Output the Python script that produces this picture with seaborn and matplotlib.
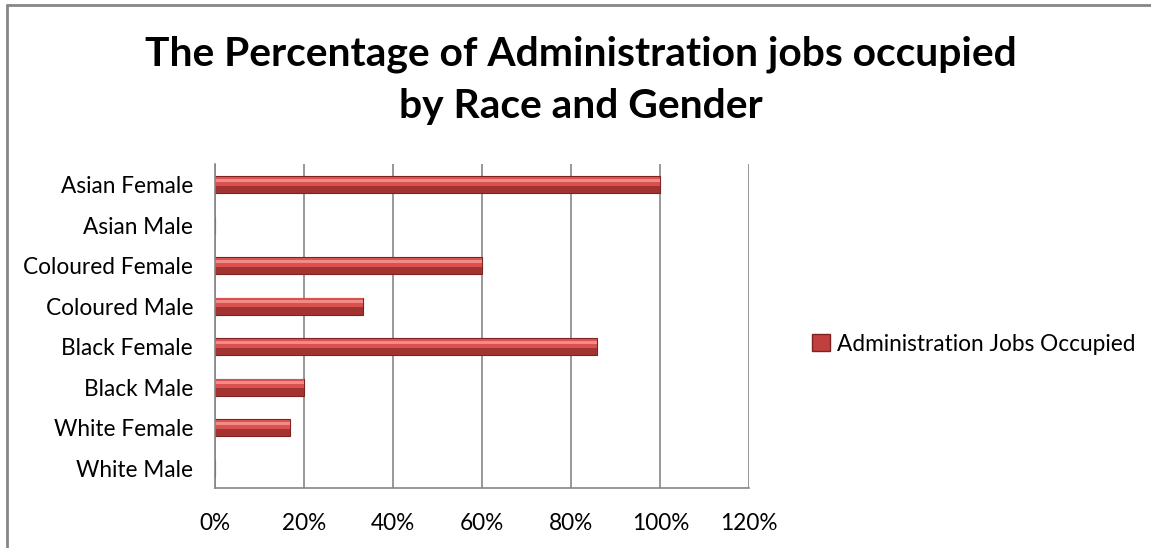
import matplotlib
matplotlib.use('Agg')
import matplotlib.pyplot as plt
import seaborn as sns
import pandas as pd
from matplotlib.lines import Line2D
from matplotlib.patches import Patch
from matplotlib.ticker import PercentFormatter

groups = ['Asian Female', 'Asian Male', 'Coloured Female', 'Coloured Male',
          'Black Female', 'Black Male', 'White Female', 'White Male']
jobs_pct = [100, 0, 60, 33.3, 85.7, 20, 16.7, 0]
series_name = 'Administration Jobs Occupied'

df = pd.DataFrame({'group': groups, 'pct': jobs_pct})

sns.set_style('white')
plt.rcParams['font.family'] = ['Lato', 'DejaVu Sans']
plt.rcParams['text.color'] = 'black'
plt.rcParams['xtick.color'] = 'black'
plt.rcParams['ytick.color'] = 'black'

fig = plt.figure(figsize=(11.51, 5.48), dpi=100)
ax = fig.add_axes([0.187, 0.109, 0.464, 0.591])

n = len(groups)
# base bar (dark lower part), upper lighter half and a thin highlight -> glossy look
sns.barplot(data=df, x='pct', y='group', orient='h', color='#a33331',
            width=0.42, saturation=1, edgecolor='#7d2220', linewidth=0.8, ax=ax)
sns.barplot(data=df, x='pct', y='group', orient='h', color='#d9524f',
            width=0.22, saturation=1, linewidth=0, ax=ax)
sns.barplot(data=df, x='pct', y='group', orient='h', color='#f28b88',
            width=0.07, saturation=1, linewidth=0, ax=ax)
for p in ax.patches[n:2 * n]:
    p.set_y(p.get_y() - 0.08)
for p in ax.patches[2 * n:]:
    p.set_y(p.get_y() - 0.11)

ax.set_xlim(0, 120)
ax.set_xticks(range(0, 121, 20))
ax.xaxis.set_major_formatter(PercentFormatter(decimals=0))
ax.set_xlabel('')
ax.set_ylabel('')
ax.grid(axis='x', color='#868686', linewidth=1.2)
ax.set_axisbelow(True)
for s in ['top', 'right']:
    ax.spines[s].set_visible(False)
for s in ['left', 'bottom']:
    ax.spines[s].set_color('#868686')
    ax.spines[s].set_linewidth(1.2)
ax.tick_params(axis='y', length=0, pad=16, labelsize=16.3)
ax.tick_params(axis='x', length=0, pad=18, labelsize=16.3)

fig.text(0.505, 0.935, 'The Percentage of Administration jobs occupied\nby Race and Gender',
         ha='center', va='top', fontsize=29.3, fontweight='bold', linespacing=1.5)

handle = Patch(facecolor='#c0403e', edgecolor='#7d2220')
fig.legend([handle], [series_name], loc='center left', bbox_to_anchor=(0.688, 0.372),
           frameon=False, fontsize=16.3, handlelength=0.8, handleheight=0.8,
           handletextpad=0.3)

# outer chart frame (only top and left show in the crop)
fig.add_artist(Line2D([0.006, 1], [0.991, 0.991], color='#868686', lw=2))
fig.add_artist(Line2D([0.006, 0.006], [0, 0.991], color='#868686', lw=2))

fig.savefig('out.png', dpi=100)
